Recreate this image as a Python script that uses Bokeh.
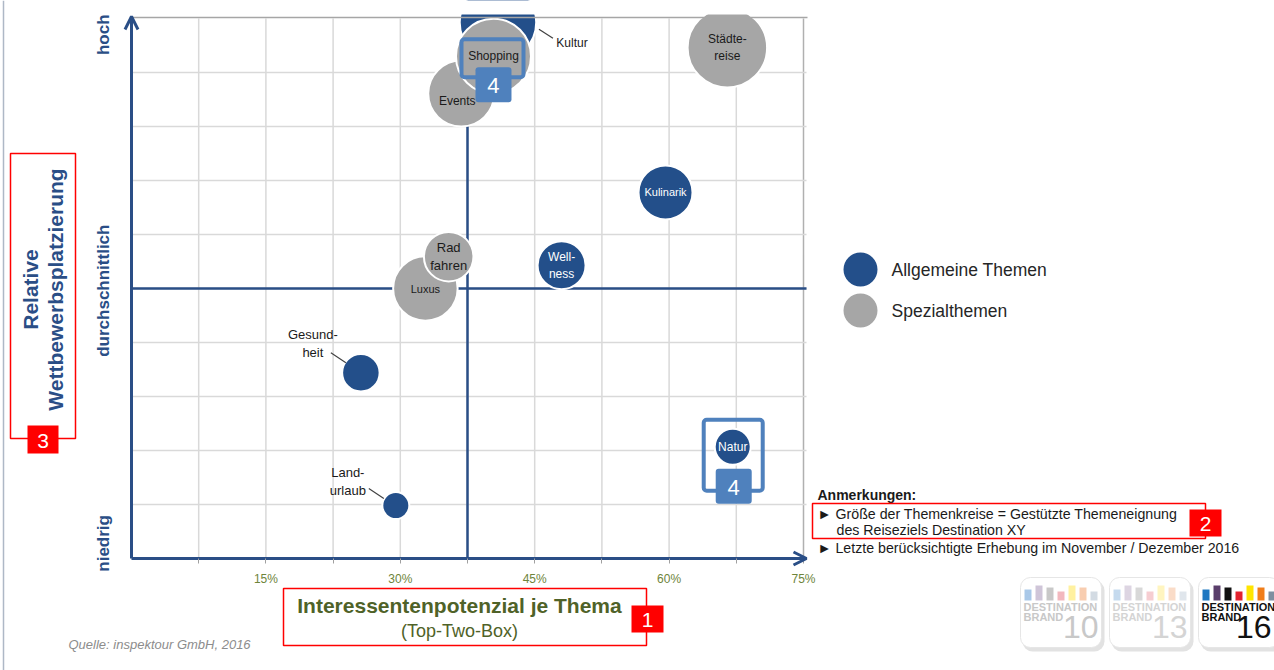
import math
from bokeh.plotting import figure
from bokeh.models import (ColumnDataSource, Range1d, FixedTicker, Label,
                          BoxAnnotation, Arrow, OpenHead)
from bokeh.embed import file_html
from bokeh.resources import INLINE
from bokeh.core.properties import value

# ---------------- data ----------------
themen = ["Kultur", "Städtereise", "Events", "Shopping", "Kulinarik", "Wellness",
          "Luxus", "Radfahren", "Gesundheit", "Landurlaub", "Natur"]
beschriftung = ["Kultur", "Städte-\nreise", "Events", "Shopping", "Kulinarik", "Well-\nness",
                "Luxus", "Rad\nfahren", "Gesund-\nheit", "Land-\nurlaub", "Natur"]
gruppe = ["Allgemeine Themen", "Spezialthemen", "Spezialthemen", "Spezialthemen",
          "Allgemeine Themen", "Allgemeine Themen", "Spezialthemen", "Spezialthemen",
          "Allgemeine Themen", "Allgemeine Themen", "Allgemeine Themen"]
# Interessentenpotenzial (Top-Two-Box, %)
interessentenpotenzial = [40.9, 66.5, 36.8, 40.4, 59.6, 48.0, 32.8, 35.4, 25.6, 29.5, 67.1]
# Relative Wettbewerbsplatzierung (0 = niedrig ... 10 = hoch)
wettbewerbsplatzierung = [9.93, 9.46, 8.61, 9.30, 6.78, 5.43, 5.00, 5.59, 3.44, 0.98, 2.07]
# Gestützte Themeneignung (Größe der Themenkreise)
themeneignung = [51, 53, 44, 50, 36, 32, 43, 33, 25, 18, 24]

x_ticks = [7.5, 15, 22.5, 30, 37.5, 45, 52.5, 60, 67.5, 75]
x_tick_labels = {15: "15%", 30: "30%", 45: "45%", 60: "60%", 75: "75%"}
y_grid = [1, 2, 3, 4, 5, 6, 7, 8, 9, 10]
y_tick_pos = [0.28, 4.96, 9.70]
y_tick_labels = ["niedrig", "durchschnittlich", "hoch"]
x_mitte = 37.5
y_mitte = 5.0
gruppen = ["Allgemeine Themen", "Spezialthemen"]
anmerkungen = ["Anmerkungen:",
               "\u25BA Größe der Themenkreise = Gestützte Themeneignung",
               "des Reiseziels Destination XY",
               "\u25BA Letzte berücksichtigte Erhebung im November / Dezember 2016"]

# ---------------- style / layout ----------------
FONT = "Liberation Sans"
AX_BLUE = "#2A4E86"
BUB_BLUE = "#234F8A"
BUB_GRAY = "#A6A6A6"
OLIVE = "#4F6228"
OLIVE_T = "#6E843A"
CALLOUT = "#4F81BD"
RED = "#FF0000"
GRID = "#D9D9D9"
farben = {"Allgemeine Themen": BUB_BLUE, "Spezialthemen": BUB_GRAY}

PXX = 8.96   # px per percentage point
PXY = 54.0   # px per unit
X0, Y0 = 131, 558  # page pixel of the origin


def X(px):
    return (px - X0) / PXX


def Y(py):
    return (Y0 - py) / PXY


label_offset = {"Kultur": (74, 21), "Events": (-4, 7), "Gesundheit": (-48, -29),
                "Landurlaub": (-48, -24)}
leader = {"Kultur": ((41, 7), (55, 16)), "Gesundheit": ((-30, -20), (-15, -10)),
          "Landurlaub": ((-27, -17), (-12, -7))}
label_size = {"Rad\nfahren": "13px", "Gesund-\nheit": "13px", "Land-\nurlaub": "13px",
              "Kulinarik": "11px", "Luxus": "11px"}

W, H = 1274, 670
p = figure(width=W, height=H, title=None, output_backend="svg", toolbar_location=None,
           x_range=Range1d(X(0), X(W)), y_range=Range1d(Y(H), Y(0)),
           min_border_left=0, min_border_right=0, min_border_top=0,
           min_border_bottom=0)
p.outline_line_color = None
p.background_fill_color = "white"
p.border_fill_color = "white"
p.grid.visible = False

# slide border on the left
p.segment(x0=X(3), y0=Y(0), x1=X(3), y1=Y(H), line_color="#AEB8C6", line_width=1.5)

# grid lines (from the tick arrays)
p.segment(x0=x_ticks[:-1], y0=0, x1=x_ticks[:-1], y1=10, line_color=GRID, line_width=1.5)
p.segment(x0=0, y0=y_grid[:-1], x1=X(806), y1=y_grid[:-1], line_color=GRID, line_width=1.5)
# dividers
p.segment(x0=x_mitte, y0=0, x1=x_mitte, y1=Y(17), line_color=AX_BLUE, line_width=2.5)
p.segment(x0=0, y0=y_mitte, x1=X(806), y1=y_mitte, line_color=AX_BLUE, line_width=2.5)

# axes (fixed in the frame)
p.xaxis.fixed_location = 0
p.xaxis.bounds = (0, 75)
p.xaxis.ticker = FixedTicker(ticks=x_ticks)
p.xaxis.major_label_overrides = {t: x_tick_labels.get(t, "") for t in x_ticks}
p.xaxis.axis_line_color = AX_BLUE
p.xaxis.axis_line_width = 3
p.xaxis.major_tick_line_color = "#A0A0A0"
p.xaxis.major_tick_out = 5
p.xaxis.major_tick_in = 0
p.xaxis.minor_tick_line_color = None
p.xaxis.major_label_text_font = FONT
p.xaxis.major_label_text_font_size = "12px"
p.xaxis.major_label_text_color = OLIVE_T
p.xaxis.major_label_standoff = 8

p.yaxis.fixed_location = 0
p.yaxis.bounds = (0, 10)
p.yaxis.ticker = FixedTicker(ticks=y_tick_pos)
p.yaxis.major_label_overrides = dict(zip(y_tick_pos, y_tick_labels))
p.yaxis.axis_line_color = AX_BLUE
p.yaxis.axis_line_width = 3
p.yaxis.major_tick_line_color = None
p.yaxis.minor_tick_line_color = None
p.yaxis.major_label_orientation = "vertical"
p.yaxis.major_label_text_font = FONT
p.yaxis.major_label_text_font_style = "bold"
p.yaxis.major_label_text_font_size = "17px"
p.yaxis.major_label_text_color = AX_BLUE
p.yaxis.major_label_standoff = 12

# bubbles
src = ColumnDataSource(dict(
    x=interessentenpotenzial, y=wettbewerbsplatzierung, thema=themen,
    d=[v * 1.5 for v in themeneignung],
    color=[farben[g] for g in gruppe]))
p.scatter("x", "y", size="d", fill_color="color", line_color="white", line_width=2,
          source=src)

# bubble labels
lx, ly, lt, lxo, lyo, lc, lfs = [], [], [], [], [], [], []
for t, b, g, xv, yv in zip(themen, beschriftung, gruppe, interessentenpotenzial,
                            wettbewerbsplatzierung):
    dx, dy = label_offset.get(t, (0, 0))
    lx.append(xv); ly.append(yv); lt.append(b); lxo.append(dx); lyo.append(dy)
    inside = t not in leader
    lc.append("white" if (inside and g == "Allgemeine Themen") else "#1A1A1A")
    lfs.append(label_size.get(b, "12px"))
lsrc = ColumnDataSource(dict(x=lx, y=ly, text=lt, xo=lxo, yo=lyo, c=lc, fs=lfs))
p.text("x", "y", text="text", x_offset="xo", y_offset="yo", text_color="c",
       text_font_size="fs", text_font=value(FONT), text_align="center",
       text_baseline="middle", text_line_height=1.2, source=lsrc)

# leader lines
sx0, sy0, sx1, sy1 = [], [], [], []
for t, xv, yv in zip(themen, interessentenpotenzial, wettbewerbsplatzierung):
    if t in leader:
        (a, b), (c, d) = leader[t]
        sx0.append(xv + a / PXX); sy0.append(yv - b / PXY)
        sx1.append(xv + c / PXX); sy1.append(yv - d / PXY)
p.segment(sx0, sy0, sx1, sy1, line_color="#404040", line_width=1.2)


def bubble_px(t):
    i = themen.index(t)
    return X0 + interessentenpotenzial[i] * PXX, Y0 - wettbewerbsplatzierung[i] * PXY


def box(l, t, r, b, fill=None, line=None, lw=1.0, radius=0):
    p.add_layout(BoxAnnotation(left=X(l), right=X(r), top=Y(t), bottom=Y(b),
                               fill_color=fill, fill_alpha=1.0 if fill else 0.0,
                               line_color=line, line_alpha=1.0, line_width=lw,
                               border_radius=radius))


def label(px, py, text, size, color="#1A1A1A", align="left", style="normal", angle=0):
    p.add_layout(Label(x=X(px), y=Y(py), text=text, text_font=FONT,
                       text_font_size=size, text_color=color, text_align=align,
                       text_baseline="middle", text_font_style=style, angle=angle))


# chart area ends at the top: mask bubble parts above it, then the frame lines
box(133, 0, 812, 14, fill="white")
p.add_layout(BoxAnnotation(left=0, right=X(807), top=Y(17), bottom=Y(17),
                           fill_alpha=0, line_color="#A6A6A6", line_alpha=1, line_width=1.5))
p.add_layout(BoxAnnotation(left=x_ticks[-1], right=x_ticks[-1], top=y_grid[-1], bottom=0,
                           fill_alpha=0, line_color="#B0B0B0", line_alpha=1, line_width=1.5,
                           level="underlay"))

p.add_layout(Arrow(end=OpenHead(size=13, line_color=AX_BLUE, line_width=3),
                   x_start=0, y_start=9.5, x_end=0, y_end=Y(16),
                   line_color=AX_BLUE, line_width=3))
p.add_layout(Arrow(end=OpenHead(size=13, line_color=AX_BLUE, line_width=3),
                   x_start=74, y_start=0, x_end=X(806), y_end=0,
                   line_color=AX_BLUE, line_width=3))

# "4" callouts
for t, (ol, ot, orr, ob), (bl, bt, br, bb) in [
        ("Shopping", (-32, -17, 30, 21), (-18, 11, 18, 46)),
        ("Natur", (-29, -27, 30, 44), (-17, 22, 19, 57))]:
    cx, cy = bubble_px(t)
    box(cx + ol, cy + ot, cx + orr, cy + ob, line=CALLOUT, lw=4, radius=3)
    box(cx + bl, cy + bt, cx + br, cy + bb, fill=CALLOUT, radius=3)
    label(cx + (bl + br) / 2, cy + (bt + bb) / 2 + 1, "4", "22px", "white", "center")

# legend
for i, g in enumerate(gruppen):
    cy = 269 + 41 * i
    box(843, cy - 17, 877, cy + 17, fill=farben[g], radius=17)
    label(891, cy, g, "17.5px", "#262626")

# notes
label(817, 494, anmerkungen[0], "14px", "#1A1A1A", style="bold")
label(817, 513, anmerkungen[1], "14.2px", "#1A1A1A")
label(836, 529, anmerkungen[2], "14.2px", "#1A1A1A")
label(817, 547, anmerkungen[3], "14.2px", "#1A1A1A")

# axis titles
label(459, 605, "Interessentenpotenzial je Thema", "21px", OLIVE, "center", "bold")
label(459, 630, "(Top-Two-Box)", "18px", OLIVE, "center")
label(30, 289, "Relative", "21px", AX_BLUE, "center", "bold", math.pi / 2)
label(55, 289, "Wettbewerbsplatzierung", "21px", AX_BLUE, "center", "bold", math.pi / 2)
label(68, 644, "Quelle: inspektour GmbH, 2016", "13px", "#8C8C8C", style="italic")

# red marker boxes
for (l, t, r, b), (bl, bt, br, bb), n in [
        ((283, 588, 646, 645), (631, 605, 663, 632), "1"),
        ((812, 503, 1205, 538), (1189, 509, 1221, 536), "2"),
        ((10, 153, 75, 438), (27, 425, 58, 453), "3")]:
    box(l, t, r, b, line=RED, lw=1.5)
    box(bl, bt, br, bb, fill=RED)
    label((bl + br) / 2, (bt + bb) / 2 + 1, n, "21px", "white", "center")

# Destination Brand logos
logos = [(1020, "10", ["#A9C8E8", "#CFC5D8", "#C8C8C8", "#F2B8BE", "#FFF1A0", "#F8CDB0", "#D3DBE3"], "#C8C8C8"),
         (1109, "13", ["#C5DAEE", "#DDD5E2", "#D8D8D8", "#F6CDD1", "#FFF5C0", "#FADCC8", "#E0E6EC"], "#D4D4D4"),
         (1198, "16", ["#1F78C1", "#5A3E6B", "#111111", "#E3222E", "#FFE500", "#F07D1A", "#7F8FA0"], "#111111")]
bar_tops = [589, 585, 587, 591, 585, 587, 591]
for x0, num, cols, tc in logos:
    box(x0 + 2, 580, x0 + 84, 651, fill="#E2E2E2", radius=10)
    box(x0, 577, x0 + 81, 647, fill="white", line="#E6E6E6", radius=10)
    for k, (c, top) in enumerate(zip(cols, bar_tops)):
        box(x0 + 4 + 11 * k, top, x0 + 11 + 11 * k, 600, fill=c)
    label(x0 + 3, 606, "DESTINATION", "11px", tc, style="bold")
    label(x0 + 3, 616, "BRAND", "11px", tc, style="bold")
    label(min(x0 + 78, 1271), 626, num, "32px", tc, "right")

open("out.html", "w").write(file_html(p, INLINE))
